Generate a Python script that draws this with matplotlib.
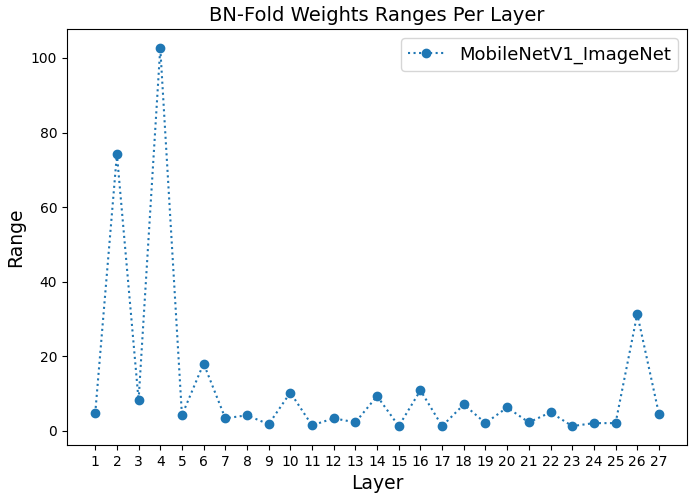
import matplotlib
matplotlib.use("Agg")
import matplotlib.pyplot as plt

layers = list(range(1, 28))
ranges = [4.6, 74.2, 8.1, 102.7, 4.1, 18.0, 3.3, 4.1, 1.7, 10.2, 1.4, 3.3, 2.2, 9.25,
          1.2, 10.8, 1.2, 7.0, 2.0, 6.2, 2.2, 4.9, 1.2, 2.0, 2.0, 31.3, 4.45]
series_name = "MobileNetV1_ImageNet"

fig, ax = plt.subplots(figsize=(6.99, 4.97), dpi=100)
ax.plot(layers, ranges, linestyle=":", marker="o", color="#1f77b4", label=series_name)
ax.set_xticks(layers)
ax.set_title("BN-Fold Weights Ranges Per Layer", fontsize=14)
ax.set_xlabel("Layer", fontsize=13.5)
ax.set_ylabel("Range", fontsize=13.5)
ax.legend(fontsize=13)
fig.subplots_adjust(left=0.0959, right=0.983, top=0.9416, bottom=0.1046)
fig.savefig("out.png", dpi=100)
